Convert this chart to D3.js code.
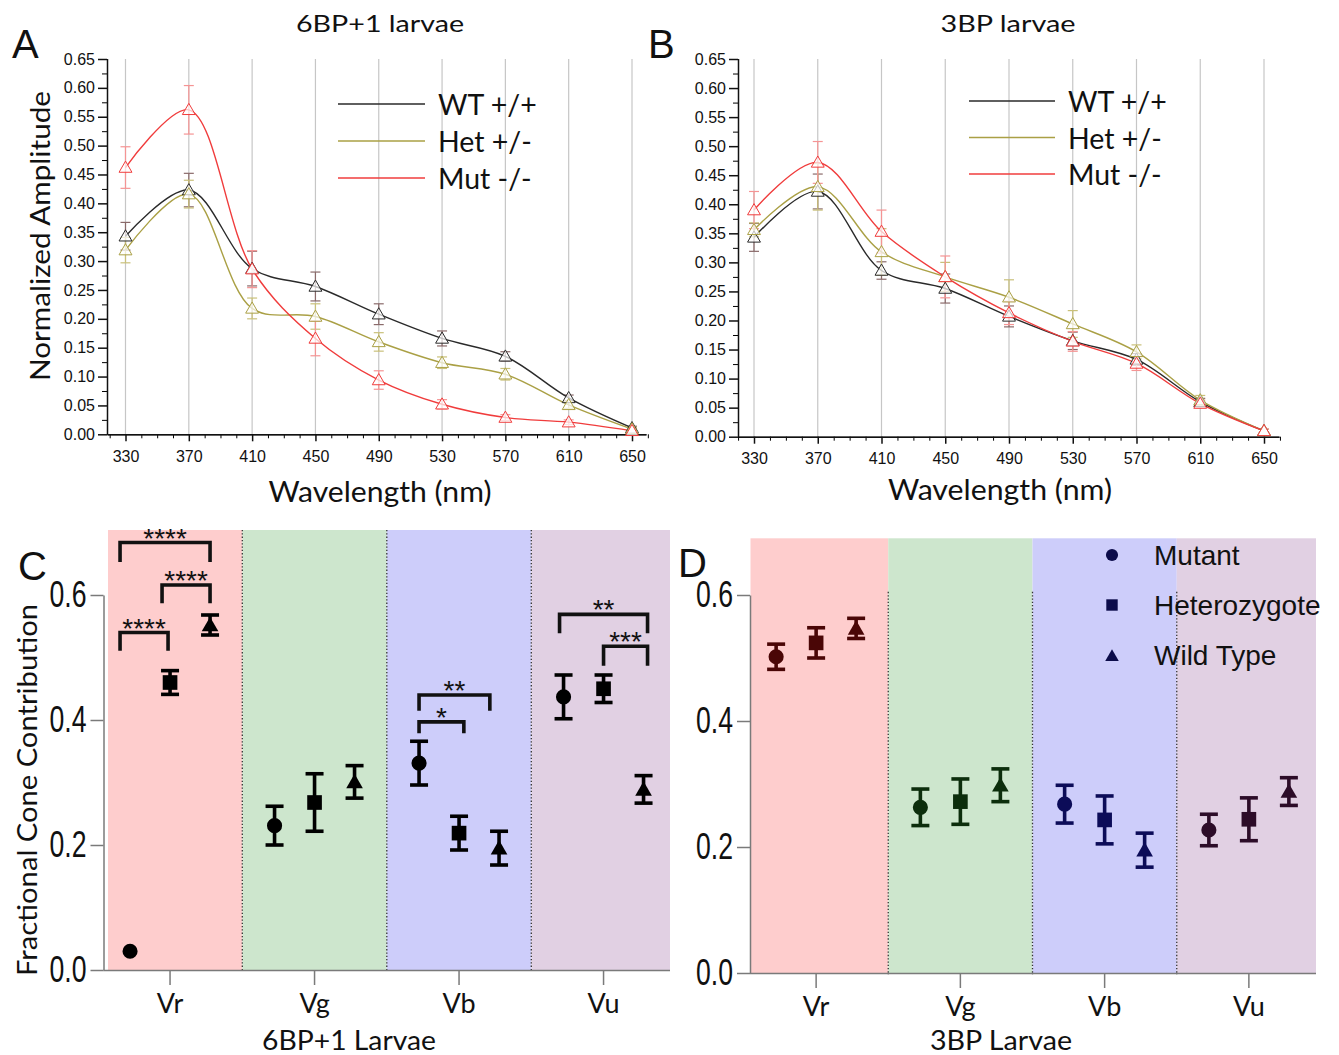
<!DOCTYPE html>
<html>
<head>
<meta charset="utf-8">
<script src="https://cdn.jsdelivr.net/npm/d3@7"></script>
<style>
	body { margin: 0; background: #fff; }
	svg text { font-family: Lato, "Open Sans", sans-serif; fill: #111; }
	.arial, .arial text { font-family: "Liberation Sans", Arial, sans-serif; }
</style>
</head>
<body>
<svg id="fig" width="1339" height="1055"></svg>
<script>
// ---- spectra (panels A, B)
const wavelengths	= [330, 370, 410, 450, 490, 530, 570, 610, 650];
const seriesNames	= ['WT +/+', 'Het +/-', 'Mut -/-'];
const seriesColors	= ['#2a2a2a', '#aaa045', '#f03c3c'];
const errColors		= ['#8a6a6a', '#c9c07a', '#f59494'];

const wt6		= [0.343, 0.423, 0.287, 0.256, 0.208, 0.166, 0.135, 0.063, 0.011];
const het6		= [0.319, 0.416, 0.218, 0.204, 0.160, 0.124, 0.104, 0.051, 0.009];
const mut6		= [0.462, 0.562, 0.286, 0.166, 0.094, 0.052, 0.029, 0.021, 0.006];
const wt6Err	= [0.024, 0.029, 0.030, 0.025, 0.018, 0.013, 0.008, 0.005, 0.003];
const het6Err	= [0.022, 0.024, 0.018, 0.022, 0.016, 0.010, 0.010, 0.006, 0.003];
const mut6Err	= [0.036, 0.042, 0.032, 0.030, 0.016, 0.008, 0.005, 0.004, 0.003];

const wt3		= [0.343, 0.422, 0.286, 0.255, 0.207, 0.165, 0.133, 0.060, 0.010];
const het3		= [0.356, 0.430, 0.318, 0.275, 0.240, 0.194, 0.146, 0.063, 0.010];
const mut3		= [0.390, 0.472, 0.353, 0.275, 0.213, 0.164, 0.126, 0.057, 0.010];
const wt3Err	= [0.024, 0.030, 0.015, 0.025, 0.018, 0.015, 0.010, 0.006, 0.003];
const het3Err	= [0.012, 0.040, 0.040, 0.025, 0.030, 0.023, 0.012, 0.008, 0.003];
const mut3Err	= [0.032, 0.036, 0.037, 0.036, 0.020, 0.017, 0.012, 0.006, 0.003];

const ampTicks	= d3.range(0, 0.651, 0.05);

// ---- cone contributions (panels C, D)
const cones			= ['Vr', 'Vg', 'Vb', 'Vu'];
const groups		= ['Mutant', 'Heterozygote', 'Wild Type'];
const bandColors	= ['#fecdcd', '#cde6cd', '#cdcdfa', '#e1d0e3'];
const coneColorsD	= ['#4a0606', '#0c2e0c', '#0c0c58', '#2c0c28'];
const fracTicks		= [0, 0.2, 0.4, 0.6];

const mutC		= [0.030, 0.231, 0.331, 0.437];
const hetC		= [0.460, 0.268, 0.219, 0.450];
const wtC		= [0.552, 0.301, 0.195, 0.289];
const mutCErr	= [0.003, 0.031, 0.035, 0.035];
const hetCErr	= [0.019, 0.046, 0.027, 0.022];
const wtCErr	= [0.016, 0.026, 0.027, 0.022];

const mutD		= [0.502, 0.263, 0.268, 0.227];
const hetD		= [0.524, 0.272, 0.243, 0.244];
const wtD		= [0.547, 0.298, 0.195, 0.288];
const mutDErr	= [0.020, 0.029, 0.030, 0.025];
const hetDErr	= [0.024, 0.036, 0.038, 0.034];
const wtDErr	= [0.016, 0.026, 0.027, 0.022];

// [cone, left end, right end (in group slots, -1 = Mutant .. 1 = Wild Type), bar level, leg end, label]
const bracketsC	= [
	['Vr', -1.25, 1.0, 0.684, 0.653, '****'],
	['Vr', -0.2, 1.0, 0.616, 0.587, '****'],
	['Vr', -1.25, -0.05, 0.540, 0.511, '****'],
	['Vb', -1.0, 0.77, 0.440, 0.415, '**'],
	['Vb', -1.0, 0.12, 0.397, 0.379, '*'],
	['Vu', -1.1, 1.1, 0.569, 0.539, '**'],
	['Vu', 0.0, 1.1, 0.518, 0.487, '***']
];

const svg = d3.select('#fig');

function label(txt, x, y, size, len, rotate) {
	let t = svg.append('text')
		.attr('text-anchor', 'middle')
		.style('font-size', size + 'px')
		.text(txt);
	if (rotate) { t.attr('transform', 'translate(' + x + ',' + y + ') rotate(-90)'); }
	else { t.attr('x', x).attr('y', y); }
	if (len) { t.attr('textLength', len).attr('lengthAdjust', 'spacingAndGlyphs'); }
	return t;
}

function letter(txt, x, y) {
	svg.append('text').attr('x', x).attr('y', y)
		.style('font-size', '40px').style('font-family', '"Liberation Sans", Arial, sans-serif').text(txt);
}

function spectraPanel(p) {
	let x = d3.scaleLinear().domain([330, 650]).range([p.x330, p.x650]);
	x.domain([x.invert(p.left), x.invert(p.right)]).range([p.left, p.right]);
	let y = d3.scaleLinear().domain([0, 0.65]).range([p.y0, p.y65]);

	let g = svg.append('g').attr('class', 'arial');

	g.append('g').selectAll('line')
		.data(wavelengths)
		.enter().append('line')
			.attr('x1', (d) => x(d)).attr('x2', (d) => x(d))
			.attr('y1', y(0.65)).attr('y2', y(0))
			.attr('stroke', '#c6c6c6').attr('stroke-width', 1.2);

	// minor ticks
	g.append('g').attr('transform', 'translate(0,' + y(0) + ')')
		.call(d3.axisBottom(x).tickValues(d3.range(320, 661, 10).filter((d) => d % 40 != 10)).tickSize(4).tickSizeOuter(0).tickFormat(''));
	g.append('g').attr('transform', 'translate(' + p.left + ',0)')
		.call(d3.axisLeft(y).tickValues(d3.range(0.025, 0.65, 0.05)).tickSize(5).tickSizeOuter(0).tickFormat(''));

	let xa = g.append('g').attr('transform', 'translate(0,' + y(0) + ')')
		.call(d3.axisBottom(x).tickValues(wavelengths).tickSize(7).tickSizeOuter(0).tickPadding(9));
	let ya = g.append('g').attr('transform', 'translate(' + p.left + ',0)')
		.call(d3.axisLeft(y).tickValues(ampTicks).tickSize(9).tickSizeOuter(0).tickPadding(3).tickFormat(d3.format('.2f')));
	ya.select('.domain').attr('d', 'M0.5,' + y(0) + 'V' + y(0.65));

	[xa, ya].forEach((a) => {
		a.selectAll('path, line').attr('stroke', '#111').attr('stroke-width', 1.5);
		a.selectAll('text').style('font-size', '16px').attr('fill', '#111');
	});

	let line = d3.line().x((d, i) => x(wavelengths[i])).y((d) => y(d)).curve(d3.curveCatmullRom.alpha(0.5));

	p.series.forEach((s, k) => {
		let eg = g.append('g').attr('stroke', errColors[k]).attr('stroke-width', 1.2);
		s.forEach((v, i) => {
			let cx = x(wavelengths[i]), e = p.errs[k][i];
			eg.append('line').attr('x1', cx).attr('x2', cx).attr('y1', y(v - e)).attr('y2', y(v + e));
			[v - e, v + e].forEach((w) => {
				eg.append('line').attr('x1', cx - 5).attr('x2', cx + 5).attr('y1', y(w)).attr('y2', y(w));
			});
		});
	});

	p.series.forEach((s, k) => {
		g.append('path').datum(s)
			.attr('d', line).attr('fill', 'none')
			.attr('stroke', seriesColors[k]).attr('stroke-width', 1.4);
	});

	p.series.forEach((s, k) => {
		g.append('g').selectAll('path')
			.data(s)
			.enter().append('path')
				.attr('d', d3.symbol(d3.symbolTriangle, 72))
				.attr('transform', (d, i) => 'translate(' + x(wavelengths[i]) + ',' + (y(d) + 1) + ')')
				.attr('fill', 'rgba(255,255,255,0.7)')
				.attr('stroke', seriesColors[k]).attr('stroke-width', 1);
	});

	seriesNames.forEach((n, k) => {
		svg.append('line')
			.attr('x1', p.legX1).attr('x2', p.legX2)
			.attr('y1', p.legY[k]).attr('y2', p.legY[k])
			.attr('stroke', seriesColors[k]).attr('stroke-width', 1.6);
		svg.append('text').attr('x', p.legX2 + 13).attr('y', p.legY[k] + 11)
			.style('font-size', '28.5px').text(n);
	});
}

function conePanel(p) {
	let x = d3.scaleBand().domain(cones).range([p.bandL, p.bandR]);
	let off = d3.scalePoint().domain(groups).range([-40, 40]);
	let slot = d3.scaleLinear().domain([-1, 1]).range([-40, 40]);
	let y = d3.scaleLinear().domain([0, 0.6]).range([p.y0, p.y6]);

	let g = svg.append('g').attr('class', 'arial');

	g.append('g').selectAll('rect')
		.data(cones)
		.enter().append('rect')
			.attr('x', (d) => Math.max(x(d), p.clipL))
			.attr('width', (d) => Math.min(x(d) + x.bandwidth(), p.clipR) - Math.max(x(d), p.clipL))
			.attr('y', y(p.top))
			.attr('height', y(0) - y(p.top))
			.attr('fill', (d, i) => bandColors[i]);

	g.append('g').selectAll('line')
		.data(cones.slice(1))
		.enter().append('line')
			.attr('x1', (d) => x(d)).attr('x2', (d) => x(d))
			.attr('y1', y(p.sepTop)).attr('y2', y(0) + 2)
			.attr('stroke', '#333').attr('stroke-width', 1.3).attr('stroke-dasharray', '1.3,2');

	let xa = g.append('g').attr('transform', 'translate(0,' + y(0) + ')')
		.call(d3.axisBottom(x).tickSize(15).tickSizeOuter(0).tickPadding(9));
	xa.select('.domain').attr('d', 'M' + p.axisX + ',0.5H' + p.clipR);
	xa.selectAll('text').style('font-family', 'Lato, "Open Sans", sans-serif').style('font-size', '27px');

	let ya = g.append('g').attr('transform', 'translate(' + p.axisX + ',0)')
		.call(d3.axisLeft(y).tickValues(fracTicks).tickSize(13).tickSizeOuter(0).tickFormat(d3.format('.1f')));
	ya.selectAll('text')
		.attr('x', -17 / 0.72)
		.attr('transform', 'scale(0.72,1)')
		.style('font-size', '37px');

	[xa, ya].forEach((a) => {
		a.selectAll('path, line').attr('stroke', '#7a7a7a').attr('stroke-width', 1.5);
		a.selectAll('text').attr('fill', '#111');
	});

	let shapes = [d3.symbolCircle, d3.symbolSquare, d3.symbolTriangle];
	let sizes = [180, 215, 120];

	p.values.forEach((vals, k) => {
		vals.forEach((v, i) => {
			let cx = x(cones[i]) + x.bandwidth() / 2 + off(groups[k]);
			let e = p.errs[k][i];
			let col = p.colors[i];
			// bars shorter than the marker stay hidden behind it
			if (y(v - e) - y(v + e) > 16) {
				let eg = g.append('g').attr('stroke', col).attr('stroke-width', 3.6);
				eg.append('line').attr('x1', cx).attr('x2', cx).attr('y1', y(v - e)).attr('y2', y(v + e));
				[v - e, v + e].forEach((w) => {
					eg.append('line').attr('x1', cx - 9).attr('x2', cx + 9).attr('y1', y(w)).attr('y2', y(w));
				});
			}
			g.append('path')
				.attr('d', d3.symbol(shapes[k], sizes[k]))
				.attr('transform', 'translate(' + cx + ',' + (y(v) + (k == 2 ? 1.5 : 0)) + ')')
				.attr('fill', col);
		});
	});

	(p.brackets || []).forEach((b) => {
		let c = x(b[0]) + x.bandwidth() / 2;
		let xl = c + slot(b[1]);
		let xr = c + slot(b[2]);
		g.append('path')
			.attr('d', 'M' + xl + ',' + y(b[4]) + 'V' + y(b[3]) + 'H' + xr + 'V' + y(b[4]))
			.attr('fill', 'none').attr('stroke', '#111').attr('stroke-width', 3.6);
		g.append('text')
			.attr('x', (xl + xr) / 2).attr('y', y(b[3]) + 5)
			.attr('text-anchor', 'middle')
			.style('font-size', '28px')
			.text(b[5]);
	});

	if (p.legend) {
		groups.forEach((n, k) => {
			let ly = p.legY + k * 50;
			g.append('path')
				.attr('d', d3.symbol(shapes[k], [115, 130, 80][k]))
				.attr('transform', 'translate(' + p.legX + ',' + (ly + (k == 2 ? 2 : 0)) + ')')
				.attr('fill', '#0c0c4a');
			g.append('text').attr('x', p.legX + 42).attr('y', ly + 10)
				.style('font-size', '28px').attr('fill', '#0c0c4a').text(n);
		});
	}
}

spectraPanel({
	left: 107, right: 646, x330: 125.5, x650: 632, y0: 434.3, y65: 59,
	series: [wt6, het6, mut6], errs: [wt6Err, het6Err, mut6Err],
	legX1: 338, legX2: 425, legY: [104, 141, 178]
});
spectraPanel({
	left: 738, right: 1279, x330: 754, x650: 1264, y0: 436.7, y65: 59,
	series: [wt3, het3, mut3], errs: [wt3Err, het3Err, mut3Err],
	legX1: 969, legX2: 1055, legY: [101, 137.5, 174]
});

conePanel({
	axisX: 103.5, bandL: 97.8, bandR: 675.8, clipL: 108, clipR: 670,
	y0: 970, y6: 595, top: 0.704, sepTop: 0.704,
	values: [mutC, hetC, wtC], errs: [mutCErr, hetCErr, wtCErr],
	colors: ['#000', '#000', '#000', '#000'], brackets: bracketsC
});
conePanel({
	axisX: 750, bandL: 744, bandR: 1321, clipL: 750.5, clipR: 1316,
	y0: 973, y6: 595, top: 0.69, sepTop: 0.605,
	values: [mutD, hetD, wtD], errs: [mutDErr, hetDErr, wtDErr],
	colors: coneColorsD, legend: true, legX: 1112, legY: 555
});

// titles and axis labels
label('6BP+1 larvae', 380, 32, 24, 168);
label('3BP larvae', 1008, 32, 24, 135);
label('Normalized Amplitude', 50, 236, 27, 290, true);
label('Wavelength (nm)', 380, 502, 28, 223);
label('Wavelength (nm)', 1000, 500, 28, 224);
label('Fractional Cone Contribution', 37, 790, 27, 372, true);
label('6BP+1 Larvae', 349, 1050, 27, 174);
label('3BP Larvae', 1001, 1050, 27, 142);

letter('A', 12, 58);
letter('B', 648, 58);
letter('C', 18, 580);
letter('D', 678, 577);
</script>
</body>
</html>
